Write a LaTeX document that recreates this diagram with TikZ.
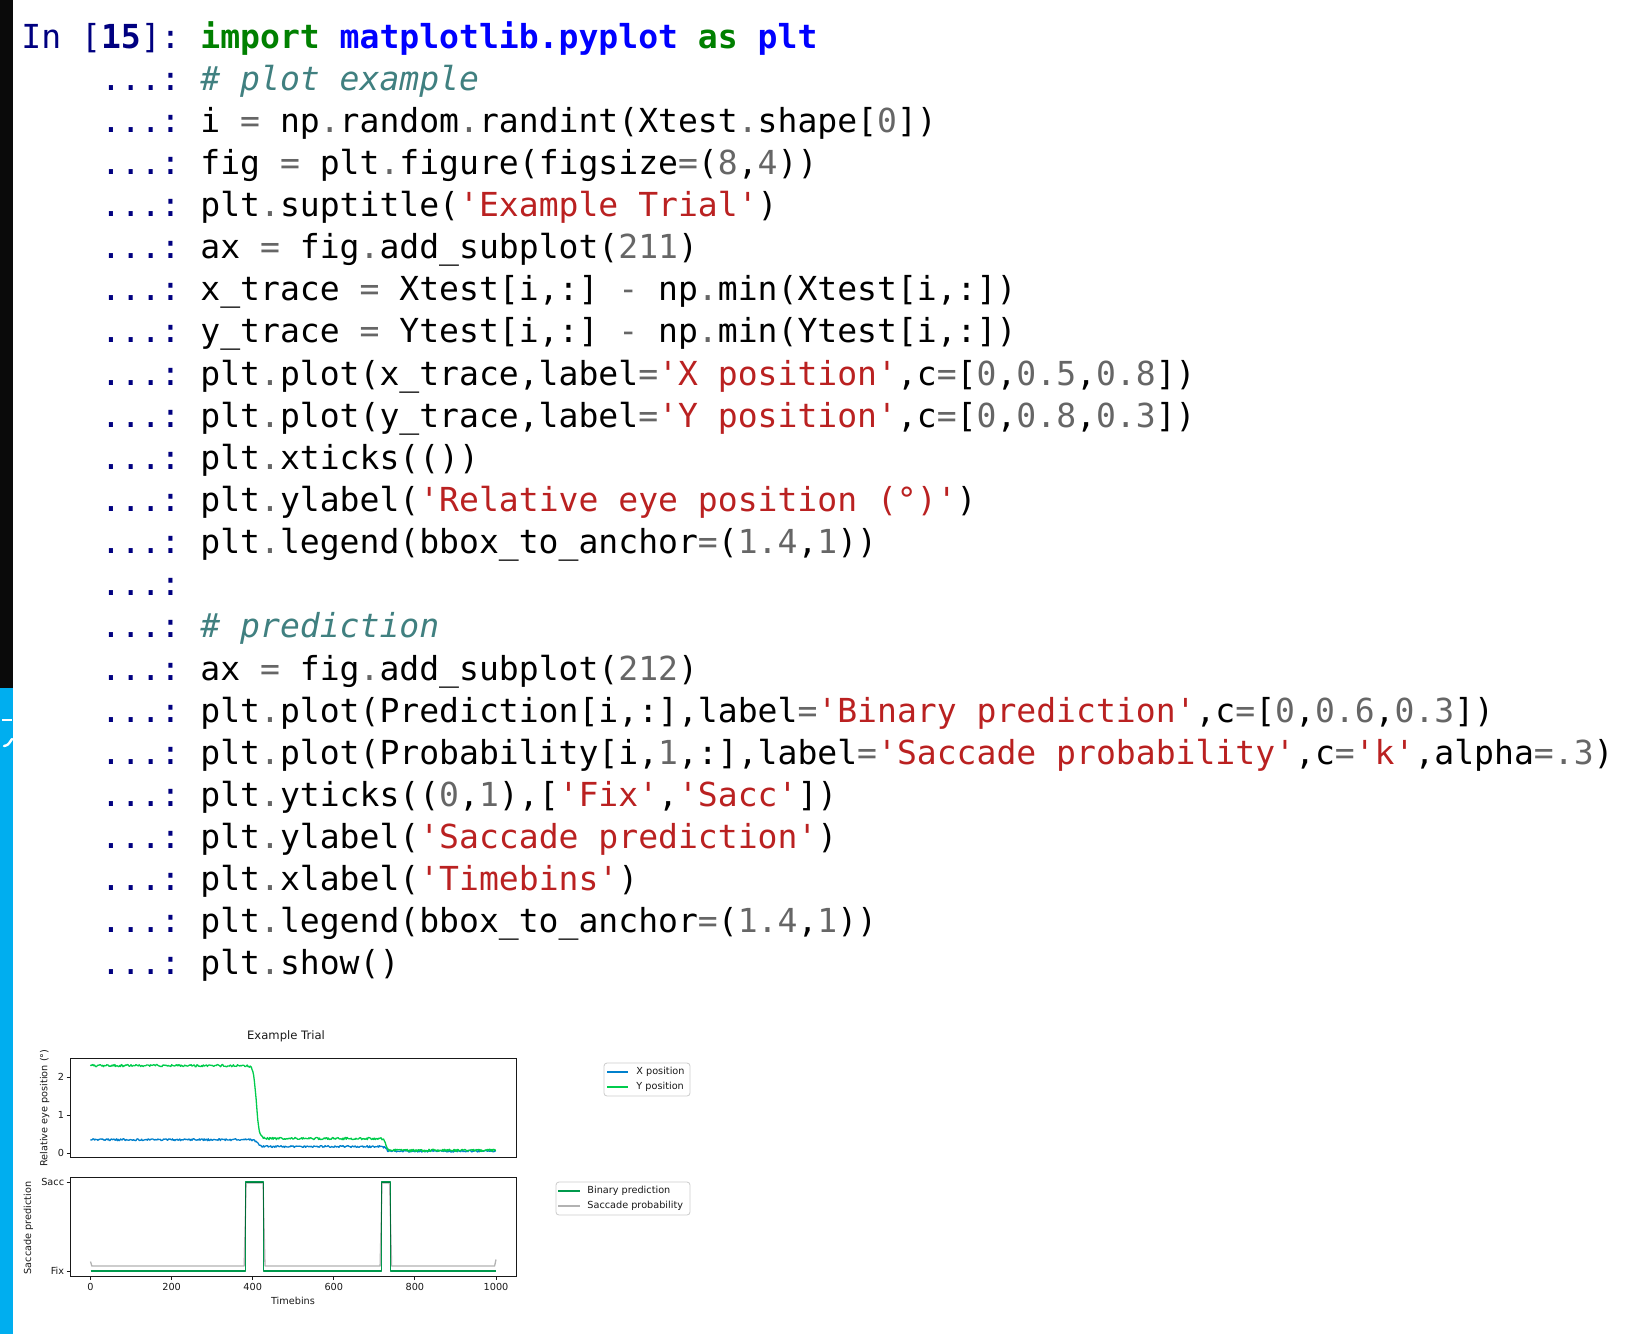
\documentclass[tikz,border=0pt]{standalone}
\usepackage{fontspec}
\setmonofont{DejaVu Sans Mono}
\newfontfamily\plotfont{DejaVu Sans}
\definecolor{prnavy}{HTML}{000080}
\definecolor{kwgreen}{HTML}{008000}
\definecolor{nsblue}{HTML}{0000FF}
\definecolor{cmteal}{HTML}{408080}
\definecolor{strred}{HTML}{BA2121}
\definecolor{opgray}{HTML}{666666}
\definecolor{barblue}{HTML}{00AEEF}
\definecolor{barblack}{HTML}{0A0A0A}
\definecolor{xpos}{rgb}{0,0.5,0.8}
\definecolor{ypos}{rgb}{0,0.8,0.3}
\definecolor{binpred}{rgb}{0,0.6,0.3}
\definecolor{legedge}{HTML}{CCCCCC}
\newcommand\pr[1]{\textcolor{prnavy}{#1}}
\newcommand\kw[1]{\textcolor{kwgreen}{\bfseries #1}}
\newcommand\ns[1]{\textcolor{nsblue}{\bfseries #1}}
\newcommand\cm[1]{\textcolor{cmteal}{\itshape #1}}
\newcommand\st[1]{\textcolor{strred}{\char"27 #1\char"27}}
\newcommand\nm[1]{\textcolor{opgray}{#1}}
\newcommand\op[1]{\textcolor{opgray}{#1}}
\newcommand\codefont{\ttfamily\fontsize{16.53}{20}\selectfont}
\newcommand\smallplot{\plotfont\fontsize{4.85}{6}\selectfont}
\newcommand\titleplot{\plotfont\fontsize{5.8}{7}\selectfont}
\begin{document}
\begin{tikzpicture}[x=0.5pt,y=-0.5pt,
  code/.style={anchor=base west, inner sep=0pt, font=\codefont},
  prompt/.style={code},
  ptxt/.style={inner sep=0pt, font=\smallplot, text=black!90},
  ticklab/.style={inner sep=0pt, font=\smallplot, text=black!90},
  spine/.style={draw=black!90, line width=0.5pt},
  tickmark/.style={draw=black!90, line width=0.45pt},
  trace/.style={line width=0.65pt, line join=round},
  legbox/.style={draw=legedge, fill=white, line width=0.4pt, rounded corners=1.5pt},
  legline/.style={line width=0.9pt},
  declare function={sg(\t,\c,\w)=1/(1+exp(max(min((\t-\c)/\w,9),-9)));}
]
\useasboundingbox (0,0) rectangle (1634,1334);
\fill[white] (0,0) rectangle (1634,1334);
% left bar
\fill[barblack] (0,0) rectangle (13,688);
\fill[barblue] (0,688) rectangle (13,1334);
\draw[white, line width=1pt] (2,720) -- (12,720);
\draw[white, line width=1.2pt, line cap=round] (4,746) .. controls (8,745) .. (12,739);

% prompts
\node[prompt] (p1) at (21,48) {\pr{In [\textbf{15}]:}};
\foreach \n/\b in {2/90.1,3/132.3,4/174.4,5/216.5,6/258.7,7/300.8,8/342.9,9/385.0,10/427.2,11/469.3,12/511.4,13/553.6,14/595.7,15/637.8,16/680.0,17/722.1,18/764.2,19/806.3,20/848.5,21/890.6,22/932.7,23/974.9}
  \node[prompt] (p\n) at (100.6,\b) {\pr{...:}};

% code lines
\node[code] (c1) at (200,48) {\kw{import} \ns{matplotlib.pyplot} \kw{as} \ns{plt}};
\node[code] (c2) at (200,90.1) {\cm{\# plot example}};
\node[code] (c3) at (200,132.3) {i \op{=} np\op{.}random\op{.}randint(Xtest\op{.}shape[\nm{0}])};
\node[code] (c4) at (200,174.4) {fig \op{=} plt\op{.}figure(figsize\op{=}(\nm{8},\nm{4}))};
\node[code] (c5) at (200,216.5) {plt\op{.}suptitle(\st{Example Trial})};
\node[code] (c6) at (200,258.7) {ax \op{=} fig\op{.}add\_subplot(\nm{211})};
\node[code] (c7) at (200,300.8) {x\_trace \op{=} Xtest[i,:] \op{-} np\op{.}min(Xtest[i,:])};
\node[code] (c8) at (200,342.9) {y\_trace \op{=} Ytest[i,:] \op{-} np\op{.}min(Ytest[i,:])};
\node[code] (c9) at (200,385.0) {plt\op{.}plot(x\_trace,label\op{=}\st{X position},c\op{=}[\nm{0},\nm{0.5},\nm{0.8}])};
\node[code] (c10) at (200,427.2) {plt\op{.}plot(y\_trace,label\op{=}\st{Y position},c\op{=}[\nm{0},\nm{0.8},\nm{0.3}])};
\node[code] (c11) at (200,469.3) {plt\op{.}xticks(())};
\node[code] (c12) at (200,511.4) {plt\op{.}ylabel(\st{Relative eye position (°)})};
\node[code] (c13) at (200,553.6) {plt\op{.}legend(bbox\_to\_anchor\op{=}(\nm{1.4},\nm{1}))};
\node[code] (c15) at (200,637.8) {\cm{\# prediction}};
\node[code] (c16) at (200,680.0) {ax \op{=} fig\op{.}add\_subplot(\nm{212})};
\node[code] (c17) at (200,722.1) {plt\op{.}plot(Prediction[i,:],label\op{=}\st{Binary prediction},c\op{=}[\nm{0},\nm{0.6},\nm{0.3}])};
\node[code] (c18) at (200,764.2) {plt\op{.}plot(Probability[i,\nm{1},:],label\op{=}\st{Saccade probability},c\op{=}\st{k},alpha\op{=}\nm{.3})};
\node[code] (c19) at (200,806.3) {plt\op{.}yticks((\nm{0},\nm{1}),[\st{Fix},\st{Sacc}])};
\node[code] (c20) at (200,848.5) {plt\op{.}ylabel(\st{Saccade prediction})};
\node[code] (c21) at (200,890.6) {plt\op{.}xlabel(\st{Timebins})};
\node[code] (c22) at (200,932.7) {plt\op{.}legend(bbox\_to\_anchor\op{=}(\nm{1.4},\nm{1}))};
\node[code] (c23) at (200,974.9) {plt\op{.}show()};

% ===== figure =====
\node[inner sep=0pt, font=\titleplot, text=black!90] (title) at (286,1036) {Example Trial};

% top axes
\pgfmathsetseed{7}
\draw[trace, xpos] plot[domain=0:999, samples=500]
  ({90.5+0.4055*\x},{1153-38*(0.05+0.12*sg(\x,728,2.5)+0.18*sg(\x,412,4)+0.025*rand)});
\draw[trace, ypos] plot[domain=0:999, samples=500]
  ({90.5+0.4055*\x},{1153-38*(0.07+0.31*sg(\x,728,2.5)+1.92*sg(\x,409,3.5)+0.03*rand)});
\draw[spine] (70,1058) rectangle (516.5,1157);
\foreach \v/\yy in {0/1153,1/1115,2/1077}{
  \draw[tickmark] (66.5,\yy) -- (70,\yy);
  \node[ticklab, anchor=east] at (64.5,\yy) {\v};
}
\node[ptxt, rotate=90] (ylab1) at (44.6,1108) {Relative eye position (°)};

% legend 1
\draw[legbox] (604,1063) rectangle (690,1096);
\draw[legline, xpos] (607,1072) -- (628,1072);
\node[ptxt, anchor=west] (lx) at (636,1072) {X position};
\draw[legline, ypos] (607,1087) -- (628,1087);
\node[ptxt, anchor=west] (ly) at (636,1087) {Y position};

% bottom axes
\draw[trace, binpred] (90.5,1271) -- (245.4,1271) -- (245.4,1182) -- (263.6,1182) -- (263.6,1271)
  -- (381.3,1271) -- (381.3,1182) -- (390.4,1182) -- (390.4,1271) -- (496,1271);
\draw[trace, black, opacity=0.3] (90.5,1261.5) -- (91.8,1266) -- (244.2,1266) -- (246.2,1183)
  -- (263,1183) -- (265,1266) -- (380.1,1266) -- (382.1,1183) -- (389.6,1183) -- (391.6,1266)
  -- (494.6,1266) -- (496,1259.5);
\draw[spine] (70,1177.7) rectangle (516.5,1276);
\draw[tickmark] (66.5,1182) -- (70,1182);
\node[ticklab, anchor=east] (sacc) at (64.5,1182) {Sacc};
\draw[tickmark] (66.5,1271) -- (70,1271);
\node[ticklab, anchor=east] (fix) at (64.5,1271) {Fix};
\foreach \k in {0,1,2,3,4,5}{
  \pgfmathsetmacro\xx{90.5+81.1*\k}
  \pgfmathtruncatemacro\lab{200*\k}
  \draw[tickmark] (\xx,1276) -- (\xx,1279.5);
  \node[ticklab, anchor=north] at (\xx,1282.5) {\lab};
}
\node[ptxt] (xlab) at (293,1301) {Timebins};
\node[ptxt, rotate=90] (ylab2) at (28.4,1228) {Saccade prediction};

% legend 2
\draw[legbox] (556,1182) rectangle (690,1215);
\draw[legline, binpred] (558,1191) -- (580,1191);
\node[ptxt, anchor=west] (lb) at (587,1191) {Binary prediction};
\draw[legline, black, opacity=0.3] (558,1206) -- (580,1206);
\node[ptxt, anchor=west] (ls) at (587,1206) {Saccade probability};
\end{tikzpicture}
\end{document}
